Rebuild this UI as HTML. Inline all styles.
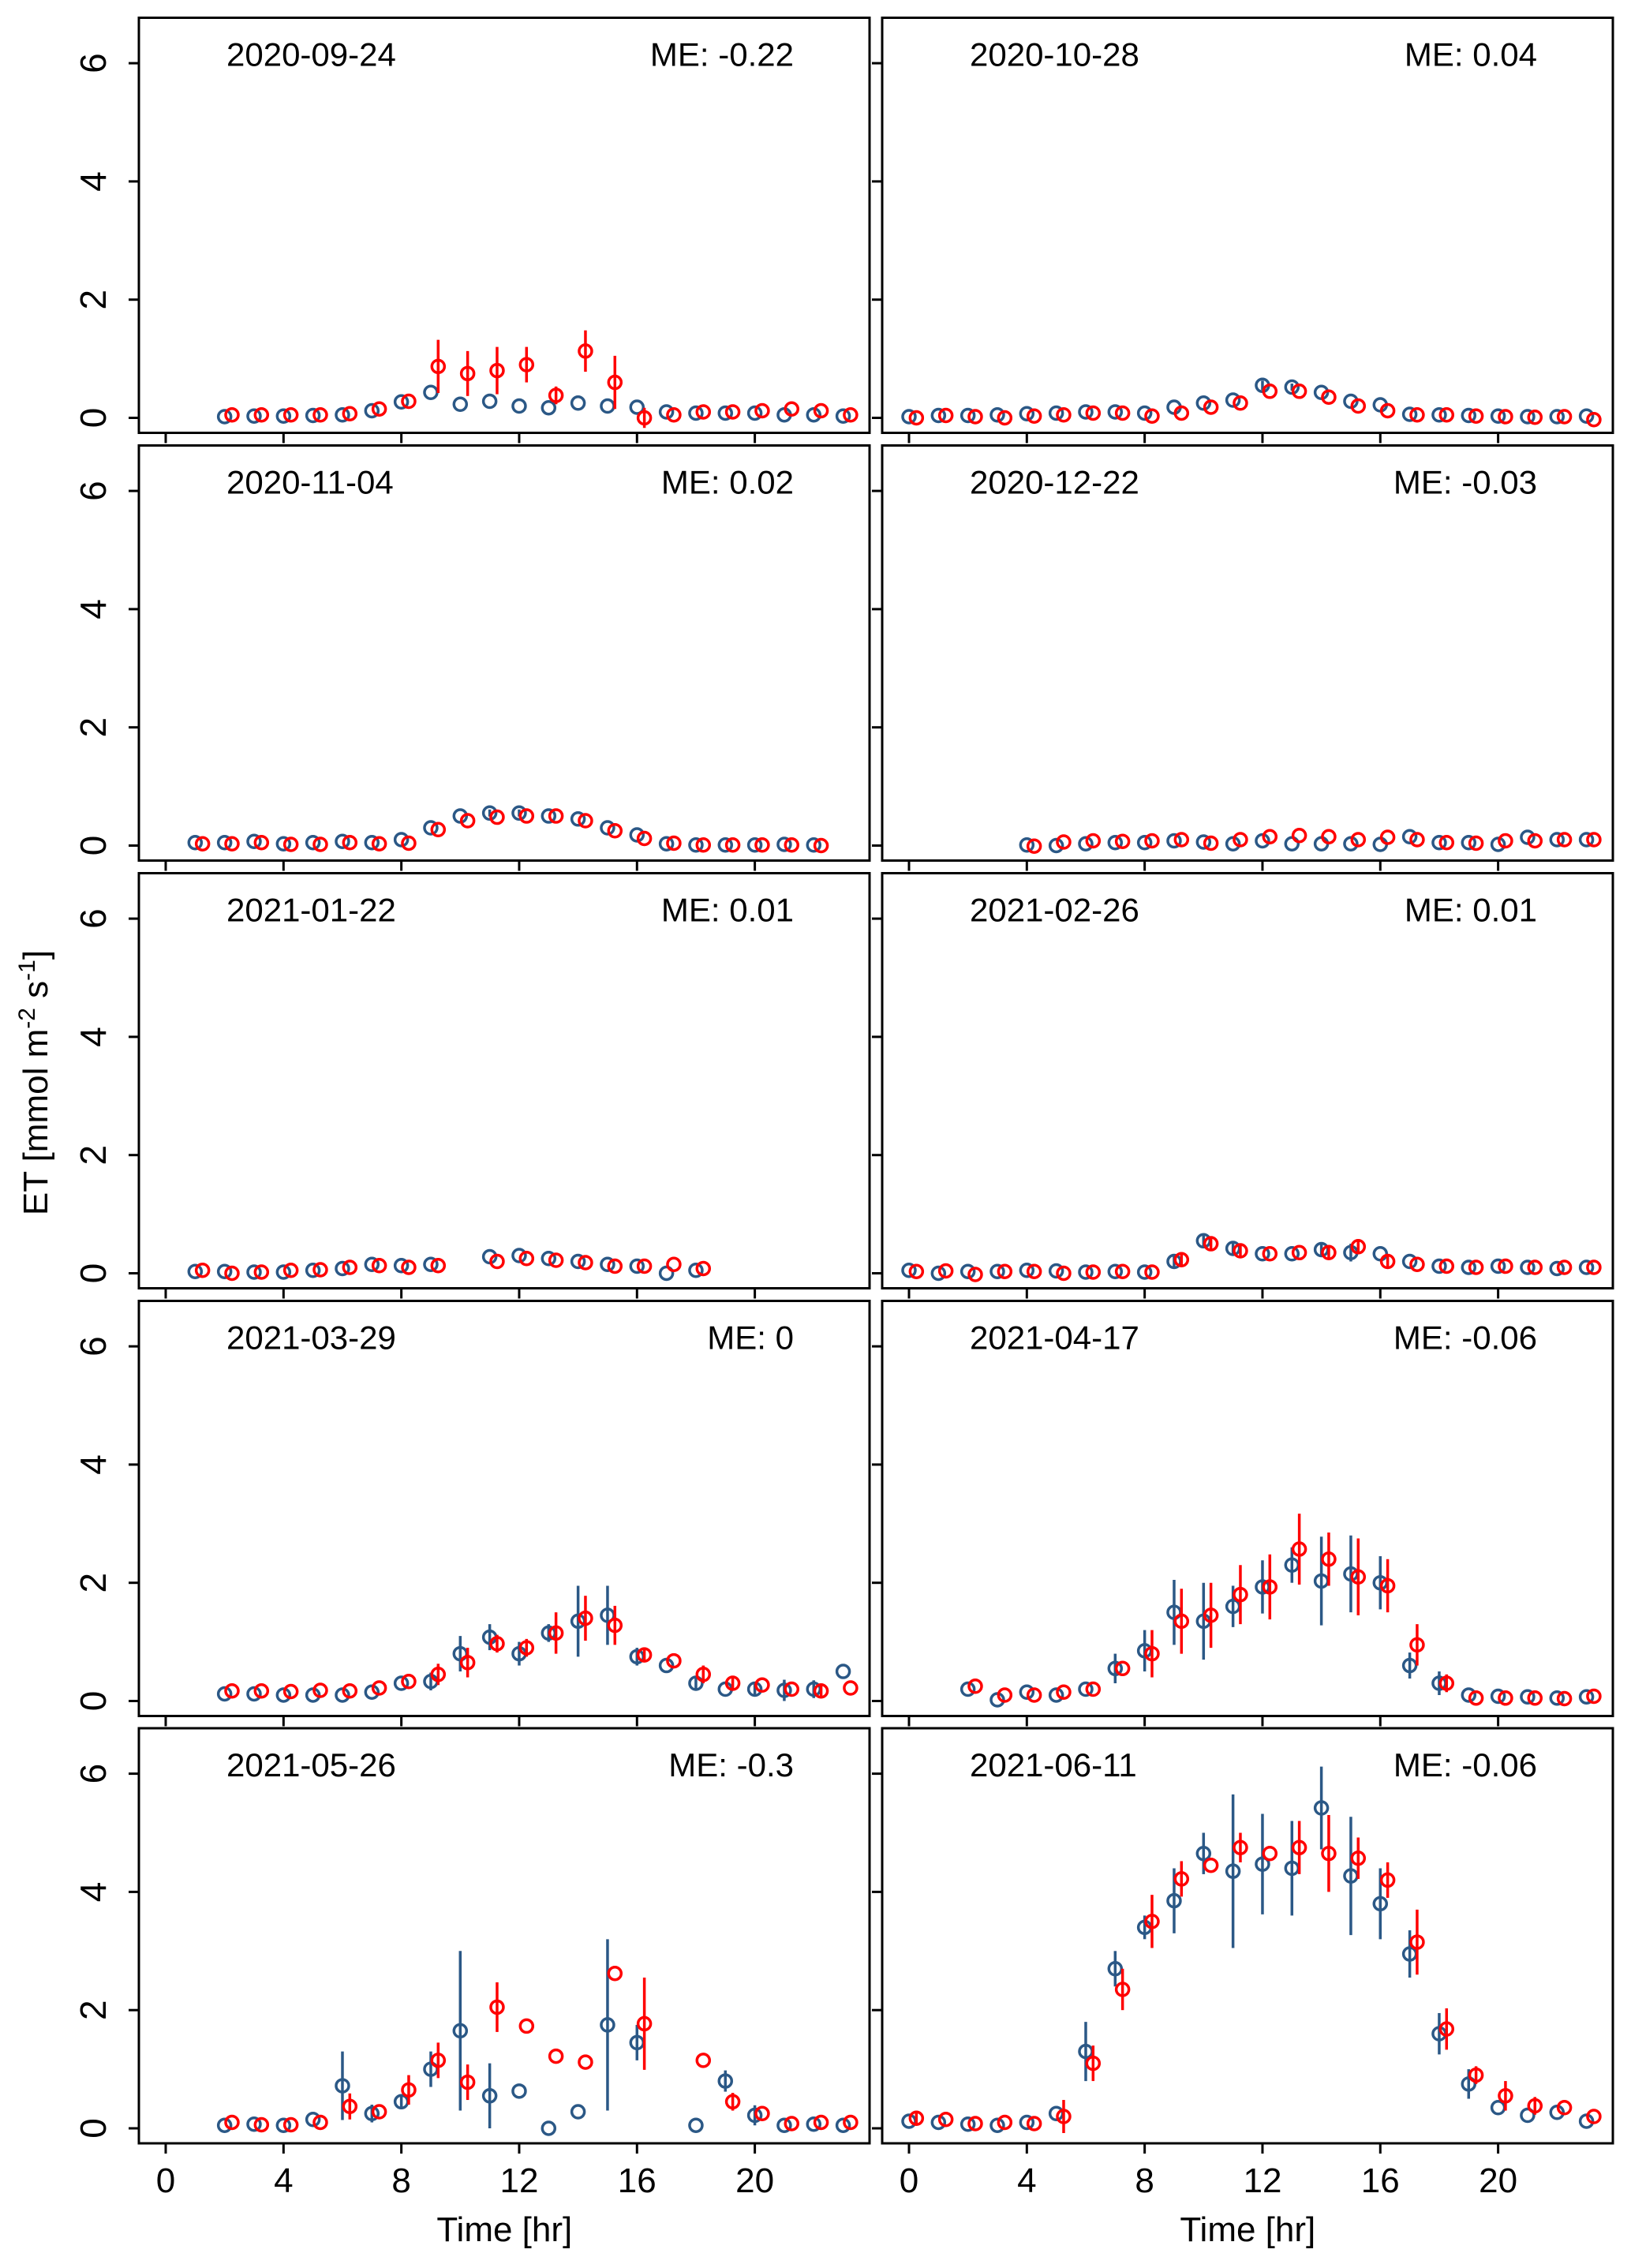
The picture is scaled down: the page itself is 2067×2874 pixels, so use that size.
<!DOCTYPE html>
<html><head><meta charset="utf-8"><style>
html,body{margin:0;padding:0;background:#fff;}
svg{display:block;font-family:"Liberation Sans",Arial,sans-serif;}
</style></head>
<body>
<svg id="chart" width="2067" height="2874" viewBox="0 0 2067 2874" xmlns="http://www.w3.org/2000/svg">
<text transform="translate(60,1372) rotate(-90)" text-anchor="middle" font-size="44">ET [mmol m<tspan baseline-shift="super" font-size="30">-2</tspan> s<tspan baseline-shift="super" font-size="30">-1</tspan>]</text>
</svg>
<script>
const dates = ["2020-09-24","2020-10-28","2020-11-04","2020-12-22","2021-01-22","2021-02-26","2021-03-29","2021-04-17","2021-05-26","2021-06-11"];
const meLabels = ["ME: -0.22","ME: 0.04","ME: 0.02","ME: -0.03","ME: 0.01","ME: 0.01","ME: 0","ME: -0.06","ME: -0.3","ME: -0.06"];
const xTicks = [0,4,8,12,16,20];
const yTicks = [0,2,4,6];
const N = null;
// blue (observed) values by hour 0..23
const blueValues = [
[N,N,.02,.03,.03,.04,.05,.12,.27,.43,.23,.28,.2,.17,.25,.2,.18,.1,.08,.08,.08,.05,.05,.03],
[.02,.04,.04,.05,.07,.08,.1,.1,.08,.18,.25,.3,.55,.52,.43,.28,.22,.06,.05,.04,.03,.02,.02,.03],
[N,.05,.05,.07,.03,.05,.07,.05,.1,.3,.5,.55,.55,.5,.45,.3,.18,.03,.01,.01,.01,.02,.01,N],
[N,N,N,N,.01,0,.03,.05,.05,.08,.06,.03,.08,.03,.03,.03,.02,.15,.05,.05,.02,.14,.1,.1],
[N,.03,.03,.02,.02,.05,.08,.15,.13,.15,N,.28,.3,.25,.2,.15,.12,0,.05,N,N,N,N,N],
[.05,0,.03,.03,.05,.04,.02,.03,.02,.2,.55,.42,.33,.33,.4,.35,.33,.2,.12,.1,.12,.1,.08,.1],
[N,N,.12,.12,.1,.1,.1,.15,.3,.33,.8,1.08,.8,1.15,1.35,1.45,.75,.6,.3,.2,.2,.18,.2,.5],
[N,N,.2,.02,.15,.1,.2,.55,.85,1.5,1.35,1.6,1.93,2.3,2.03,2.15,2,.6,.3,.1,.08,.07,.05,.07],
[N,N,.05,.07,.05,.15,.72,.25,.45,1.0,1.65,.55,.63,0,.28,1.75,1.45,N,.05,.8,.22,.05,.07,.05],
[.12,.1,.07,.05,.1,.25,1.3,2.7,3.4,3.85,4.65,4.35,4.47,4.4,5.42,4.27,3.8,2.95,1.6,.75,.35,.22,.27,.12]
];
// blue error half-widths
const blueErr = [
[0,0,0,0,0,0,0,0,0,0,0,0,0,0,0,0,0,0,0,0,0,0,0,0],
[0,0,0,0,0,0,0,0,0,0,0,0,.08,.06,0,0,0,0,0,0,0,0,0,0],
[0,0,0,0,0,0,0,0,0,0,0,.06,.06,0,0,0,0,0,0,0,0,0,0,0],
[0,0,0,0,0,0,0,0,0,0,0,0,0,0,0,0,0,0,0,0,0,0,0,0],
[0,0,0,0,0,0,0,0,0,0,0,0,0,0,0,0,0,0,0,0,0,0,0,0],
[0,0,0,0,0,0,0,0,0,.1,.1,.12,0,0,.1,.15,0,0,0,0,0,0,0,0],
[0,0,0,0,0,0,0,0,0,.15,.3,.22,.2,.15,.6,.5,.15,0,.1,0,.1,.18,.15,0],
[0,0,0,0,0,0,0,.25,.35,.55,.65,.35,.45,.3,.75,.65,.45,.22,.2,0,0,0,0,0],
[0,0,0,0,0,0,.58,.15,.1,.3,1.35,.55,0,0,0,1.45,.3,0,0,.18,.17,0,0,0],
[0,0,0,0,0,0,.5,.3,.2,.55,.35,1.3,.85,.8,.7,1.0,.6,.4,.35,.25,0,0,0,0]
];
// red (modelled) values by hour 0..23
const redValues = [
[N,N,.05,.05,.05,.05,.07,.15,.28,.87,.75,.8,.9,.38,1.13,.6,0,.05,.1,.1,.12,.15,.12,.05],
[0,.04,.02,0,.03,.05,.08,.08,.03,.08,.18,.25,.45,.45,.35,.2,.12,.05,.05,.03,.02,.01,.02,-.03],
[N,.03,.03,.05,.02,.02,.05,.03,.04,.27,.42,.48,.5,.5,.42,.25,.12,.04,.01,.01,.01,.01,0,N],
[N,N,N,N,-.01,.06,.08,.07,.08,.1,.04,.1,.15,.17,.15,.1,.14,.1,.05,.04,.08,.08,.1,.1],
[N,.05,0,.02,.05,.06,.1,.13,.1,.13,N,.2,.25,.22,.18,.12,.12,.15,.08,N,N,N,N,N],
[.03,.04,-.02,.03,.03,0,.02,.03,.02,.23,.5,.38,.33,.35,.35,.45,.2,.15,.12,.1,.12,.1,.1,.1],
[N,N,.17,.17,.16,.18,.17,.22,.33,.45,.65,.97,.9,1.15,1.4,1.28,.78,.68,.45,.3,.27,.2,.17,.22],
[N,N,.25,.1,.1,.15,.2,.55,.8,1.35,1.45,1.8,1.93,2.57,2.4,2.1,1.95,.95,.3,.05,.05,.05,.04,.08],
[N,N,.1,.06,.06,.1,.37,.28,.65,1.15,.78,2.05,1.73,1.22,1.12,2.62,1.77,N,1.15,.45,.25,.08,.1,.1],
[.17,.15,.08,.1,.08,.2,1.1,2.35,3.5,4.22,4.45,4.75,4.65,4.75,4.65,4.57,4.2,3.15,1.68,.9,.55,.38,.35,.2]
];
// red error half-widths
const redErr = [
[0,0,0,0,0,0,0,0,0,.45,.38,.4,.3,.15,.35,.45,.17,0,0,0,0,0,0,0],
[0,0,0,0,0,0,0,0,0,0,0,0,0,0,0,0,0,0,0,0,0,0,0,0],
[0,0,0,0,0,0,0,0,0,0,0,0,0,0,0,0,0,0,0,0,0,0,0,0],
[0,0,0,0,0,0,0,0,0,0,0,0,0,0,0,0,0,0,0,0,0,0,0,0],
[0,0,0,0,0,0,0,0,0,0,0,0,0,0,0,0,0,0,0,0,0,0,0,0],
[0,0,0,0,0,0,0,0,0,.1,.1,.1,0,0,.12,.1,.12,0,0,0,0,0,0,0],
[0,0,0,0,0,0,0,0,0,.18,.25,.15,.15,.35,.38,.33,.12,0,.15,.1,0,0,.1,0],
[0,0,0,0,0,0,0,0,.4,.55,.55,.5,.55,.6,.45,.65,.45,.35,.15,0,0,0,0,0],
[0,0,0,0,0,0,.22,0,.25,.3,.3,.42,0,0,0,0,.78,0,0,.15,0,0,0,0],
[.1,0,0,0,0,.28,.3,.35,.45,.3,0,.25,0,.45,.65,.35,.3,.55,.35,.15,.25,.15,0,0]
];

const svg = document.getElementById('chart');
const NS = 'http://www.w3.org/2000/svg';
const colLeft = [176, 1118], rowTop = [22.5, 564.5, 1106.5, 1648.5, 2190];
const PW = 926, PH = 526, PXH = 37.33, PXU = 74.9;
const BLUE = '#2b5886', RED = '#ff0000';
function mk(tag, attrs, parent){const e=document.createElementNS(NS,tag);for(const k in attrs)e.setAttribute(k,attrs[k]);(parent||svg).appendChild(e);return e;}

for (let p = 0; p < dates.length; p++) {
  const col = p % 2, row = Math.floor(p / 2);
  const L = colLeft[col], T = rowTop[row];
  const xs = h => L + 34 + h * PXH;
  const ys = v => T + 507 - v * PXU;
  const g = mk('g', {});
  
  
  const frame = mk('rect', {x:L, y:T, width:PW, height:PH, fill:'none', stroke:'#000', 'stroke-width':3}, g);
  
  
  for (const t of yTicks) {
    const tk = mk('line', {x1:L-13, x2:L, y1:ys(t), y2:ys(t), stroke:'#000', 'stroke-width':3}, g);
    
    
    if (col === 0) {
      const tl = mk('text', {transform:`translate(${L-42},${ys(t)}) rotate(-90)`, 'text-anchor':'middle', 'font-size':46}, g);
      tl.textContent = t;
      
      
    }
  }
  for (const t of xTicks) {
    const tk = mk('line', {x1:xs(t), x2:xs(t), y1:T+PH, y2:T+PH+13, stroke:'#000', 'stroke-width':3}, g);
    
    
    if (row === 4) {
      const tl = mk('text', {x:xs(t), y:T+PH+62, 'text-anchor':'middle', 'font-size':44}, g);
      tl.textContent = t;
      
      
    }
  }
  if (row === 4) {
    const xt = mk('text', {x:xs(11.5), y:T+PH+124, 'text-anchor':'middle', 'font-size':44}, g);
    xt.textContent = 'Time [hr]';
    
    
  }
  const dt = mk('text', {x:L+111, y:T+61, 'font-size':42}, g);
  dt.textContent = dates[p];
  
  
  const me = mk('text', {x:L+830, y:T+61, 'text-anchor':'end', 'font-size':42}, g);
  me.textContent = meLabels[p];
  
  
  const series = [[blueValues[p], blueErr[p], BLUE, 0, 'observed'], [redValues[p], redErr[p], RED, 0.25, 'modelled']];
  for (const [vals, errs, color, off, nm] of series) {
    for (let h = 0; h < 24; h++) {
      const v = vals[h];
      if (v === null) continue;
      const cx = xs(h + off);
      if (errs[h] > 0) {
        const eb = mk('line', {x1:cx, x2:cx, y1:ys(v - errs[h]), y2:ys(v + errs[h]), stroke:color, 'stroke-width':3.5}, g);
        
        
      }
      const c = mk('circle', {cx:cx, cy:ys(v), r:8, fill:'none', stroke:color, 'stroke-width':3.5}, g);
      
      
    }
  }
}
</script>
</body></html>
